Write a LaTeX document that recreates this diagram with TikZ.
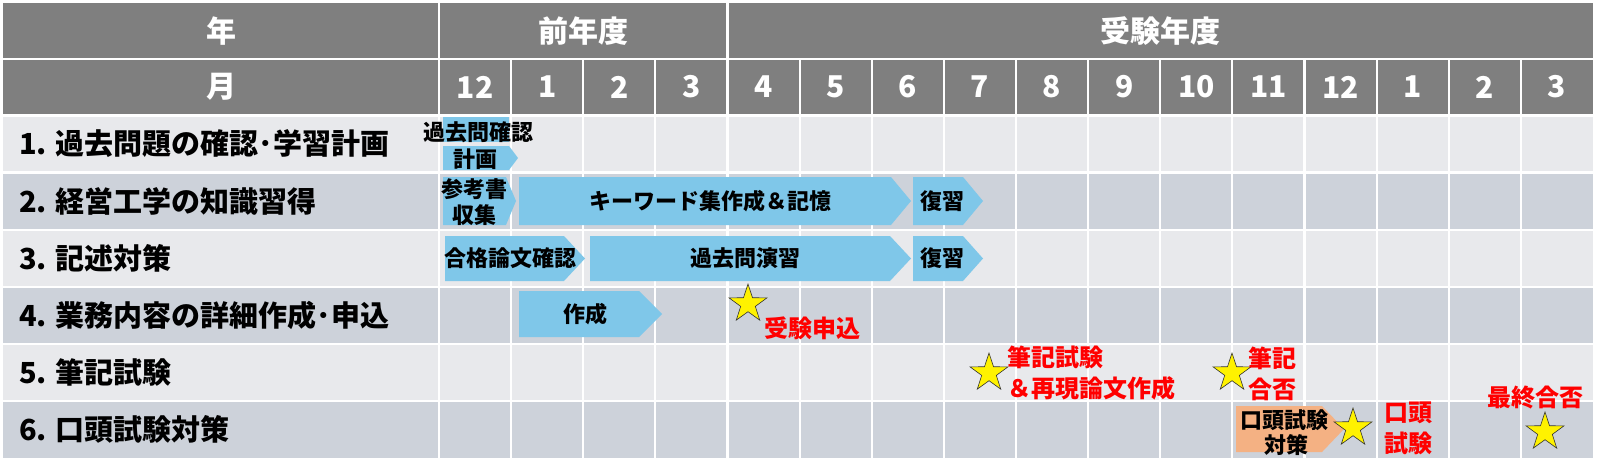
\documentclass[tikz,border=0pt]{standalone}
\usepackage{fontspec}
\setmainfont{Noto Sans CJK JP}
\usetikzlibrary{shapes.geometric}

\definecolor{headgray}{HTML}{7F7F7F}
\definecolor{rowlight}{HTML}{E8E9EC}
\definecolor{rowdark}{HTML}{CDD2DA}
\definecolor{barblue}{HTML}{7FC7E9}
\definecolor{barorange}{HTML}{F4B183}
\definecolor{markred}{HTML}{FF0000}

\begin{document}
\begin{tikzpicture}[x=1pt, y=-1pt,
	head/.style={text=white, font=\fontsize{30}{32}\selectfont\bfseries, inner sep=0pt},
	task/.style={anchor=west, font=\fontsize{29}{31}\selectfont\bfseries, inner sep=0pt},
	bar/.style={fill=barblue},
	barlabel/.style={font=\fontsize{22}{24}\selectfont\bfseries, inner sep=0pt},
	note/.style={text=markred, font=\fontsize{24}{26}\selectfont\bfseries, inner sep=0pt},
	goal/.style={star, star points=5, star point ratio=2.6, draw=black!80, fill=yellow, line width=0.6pt, minimum size=40pt, inner sep=0pt},
	gridline/.style={white, line width=2.2pt}
	]
	
	\useasboundingbox (0,0) rectangle (1603,471);
	
	%-----------------------
	% Table geometry
	%-----------------------
	\def\xl{3}        % left edge
	\def\xo{439}      % first month column
	\def\cw{72.125}   % month column width
	\def\xr{1593}     % right edge
	\def\yt{3}        % top edge
	\def\yhA{59}      % year row / month row
	\def\yhB{115.5}   % month row / first task row
	\def\rh{57.08}    % task row height
	\def\yb{458}      % bottom edge
	
	%-----------------------
	% Cell fills
	%-----------------------
	\fill[headgray] (\xl,\yt) rectangle (\xr,\yhB);
	\fill[rowlight] (\xl,\yhB) rectangle (\xr,{\yhB+\rh});
	\fill[rowdark]  (\xl,{\yhB+\rh}) rectangle (\xr,{\yhB+2*\rh});
	\fill[rowlight] (\xl,{\yhB+2*\rh}) rectangle (\xr,{\yhB+3*\rh});
	\fill[rowdark]  (\xl,{\yhB+3*\rh}) rectangle (\xr,{\yhB+4*\rh});
	\fill[rowlight] (\xl,{\yhB+4*\rh}) rectangle (\xr,{\yhB+5*\rh});
	\fill[rowdark]  (\xl,{\yhB+5*\rh}) rectangle (\xr,\yb);
	
	%-----------------------
	% White grid lines
	%-----------------------
	\draw[gridline] (\xl,\yhA) -- (\xr,\yhA)
	(\xl,\yhB) -- (\xr,\yhB)
	(\xl,{\yhB+\rh}) -- (\xr,{\yhB+\rh})
	(\xl,{\yhB+2*\rh}) -- (\xr,{\yhB+2*\rh})
	(\xl,{\yhB+3*\rh}) -- (\xr,{\yhB+3*\rh})
	(\xl,{\yhB+4*\rh}) -- (\xr,{\yhB+4*\rh})
	(\xl,{\yhB+5*\rh}) -- (\xr,{\yhB+5*\rh});
	
	\draw[gridline] (\xo,\yt) -- (\xo,\yb)
	({\xo+4*\cw},\yt) -- ({\xo+4*\cw},\yb)
	({\xo+1*\cw},\yhA) -- ({\xo+1*\cw},\yb)
	({\xo+2*\cw},\yhA) -- ({\xo+2*\cw},\yb)
	({\xo+3*\cw},\yhA) -- ({\xo+3*\cw},\yb)
	({\xo+5*\cw},\yhA) -- ({\xo+5*\cw},\yb)
	({\xo+6*\cw},\yhA) -- ({\xo+6*\cw},\yb)
	({\xo+7*\cw},\yhA) -- ({\xo+7*\cw},\yb)
	({\xo+8*\cw},\yhA) -- ({\xo+8*\cw},\yb)
	({\xo+9*\cw},\yhA) -- ({\xo+9*\cw},\yb)
	({\xo+10*\cw},\yhA) -- ({\xo+10*\cw},\yb)
	({\xo+11*\cw},\yhA) -- ({\xo+11*\cw},\yb)
	({\xo+12*\cw},\yhA) -- ({\xo+12*\cw},\yb)
	({\xo+13*\cw},\yhA) -- ({\xo+13*\cw},\yb)
	({\xo+14*\cw},\yhA) -- ({\xo+14*\cw},\yb)
	({\xo+15*\cw},\yhA) -- ({\xo+15*\cw},\yb);
	
	%-----------------------
	% Header rows: year and month
	%-----------------------
	\node[head] (year)  at (221,31) {年};
	\node[head] (prevy) at ({\xo+2*\cw},31) {前年度};
	\node[head] (examy) at ({\xo+10*\cw},31) {受験年度};
	
	\node[head] (month) at (221,87) {月};
	\node[head] (m12a) at ({\xo+0.5*\cw},87) {12};
	\node[head] (m1a)  at ({\xo+1.5*\cw},87) {1};
	\node[head] (m2a)  at ({\xo+2.5*\cw},87) {2};
	\node[head] (m3a)  at ({\xo+3.5*\cw},87) {3};
	\node[head] (m4)   at ({\xo+4.5*\cw},87) {4};
	\node[head] (m5)   at ({\xo+5.5*\cw},87) {5};
	\node[head] (m6)   at ({\xo+6.5*\cw},87) {6};
	\node[head] (m7)   at ({\xo+7.5*\cw},87) {7};
	\node[head] (m8)   at ({\xo+8.5*\cw},87) {8};
	\node[head] (m9)   at ({\xo+9.5*\cw},87) {9};
	\node[head] (m10)  at ({\xo+10.5*\cw},87) {10};
	\node[head] (m11)  at ({\xo+11.5*\cw},87) {11};
	\node[head] (m12b) at ({\xo+12.5*\cw},87) {12};
	\node[head] (m1b)  at ({\xo+13.5*\cw},87) {1};
	\node[head] (m2b)  at ({\xo+14.5*\cw},87) {2};
	\node[head] (m3b)  at ({\xo+15.5*\cw},87) {3};
	
	%-----------------------
	% Task column
	%-----------------------
	\node[task] (taskA) at (19,{\yhB+0.5*\rh}) {1. 過去問題の確認･学習計画};
	\node[task] (taskB) at (19,{\yhB+1.5*\rh}) {2. 経営工学の知識習得};
	\node[task] (taskC) at (19,{\yhB+2.5*\rh}) {3. 記述対策};
	\node[task] (taskD) at (19,{\yhB+3.5*\rh}) {4. 業務内容の詳細作成･申込};
	\node[task] (taskE) at (19,{\yhB+4.5*\rh}) {5. 筆記試験};
	\node[task] (taskF) at (19,{\yhB+5.5*\rh}) {6. 口頭試験対策};
	
	%-----------------------
	% Bars
	%-----------------------
	% row 1
	\fill[bar] (443,117) rectangle (509,142);
	\fill[bar] (443,146) -- (509,146) -- (518,158) -- (509,170) -- (443,170) -- cycle;
	% row 2
	\fill[bar] (443,177) -- (506,177) -- (516,201) -- (506,225) -- (443,225) -- cycle;
	\fill[bar] (519,177) -- (891,177) -- (911,201) -- (891,225) -- (519,225) -- cycle;
	\fill[bar] (913,177) -- (963,177) -- (983,201) -- (963,225) -- (913,225) -- cycle;
	% row 3
	\fill[bar] (445,236) -- (564,236) -- (585,258.5) -- (564,281) -- (445,281) -- cycle;
	\fill[bar] (590,236) -- (890,236) -- (911,258.5) -- (890,281) -- (590,281) -- cycle;
	\fill[bar] (913,236) -- (963,236) -- (983,258.5) -- (963,281) -- (913,281) -- cycle;
	% row 4
	\fill[bar] (519,291) -- (639,291) -- (662,314) -- (639,337) -- (519,337) -- cycle;
	% row 6
	\fill[barorange] (1236,406) -- (1322,406) -- (1344,429) -- (1322,452) -- (1236,452) -- cycle;
	
	% bar texts
	\node[barlabel] (kakoA)   at (478,132) {過去問確認};
	\node[barlabel] (keikaku) at (475,159) {計画};
	\node[barlabel] (sankou)  at (474,189) {参考書};
	\node[barlabel] (shushu)  at (474,215) {収集};
	\node[barlabel] (keyword) at (710,201) {キーワード集作成＆記憶};
	\node[barlabel] (fukuA)   at (942,201) {復習};
	\node[barlabel] (goukaku) at (510,258.5) {合格論文確認};
	\node[barlabel] (enshu)   at (745,258.5) {過去問演習};
	\node[barlabel] (fukuB)   at (942,258.5) {復習};
	\node[barlabel] (sakusei) at (585,314) {作成};
	\node[barlabel] (koutouA) at (1284,420) {口頭試験};
	\node[barlabel] (taisaku) at (1286,445) {対策};
	
	%-----------------------
	% Milestones
	%-----------------------
	\node[goal] (starA) at (748,304) {};
	\node[goal] (starB) at (989,373) {};
	\node[goal] (starC) at (1232,373) {};
	\node[goal] (starD) at (1353,428) {};
	\node[goal] (starE) at (1545,432) {};
	
	\node[note] (moushikomi) at (812,328) {受験申込};
	\node[note, anchor=west] (hikkiA) at (1007,357) {筆記試験};
	\node[note, anchor=west] (hikkiB) at (1007,388) {＆再現論文作成};
	\node[note, anchor=west] (goupiA) at (1248,358) {筆記};
	\node[note, anchor=west] (goupiB) at (1248,389) {合否};
	\node[note] (koutouB) at (1408,413) {口頭};
	\node[note] (koutouC) at (1408,443) {試験};
	\node[note] (saishu)  at (1535,398) {最終合否};
	
\end{tikzpicture}
\end{document}
